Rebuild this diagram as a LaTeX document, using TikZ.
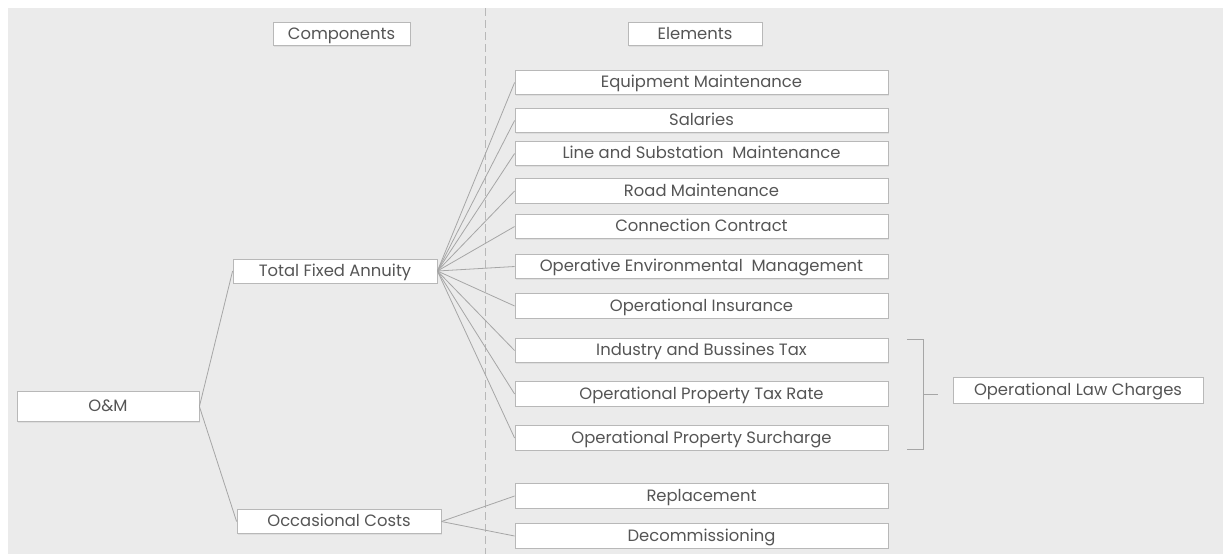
\documentclass[tikz,border=0pt]{standalone}
\usepackage{fontspec}
\setmainfont{Poppins}
\usetikzlibrary{shadows}
\definecolor{panel}{HTML}{EBEBEB}
\definecolor{boxline}{HTML}{B8B8B8}
\definecolor{conn}{HTML}{A6A6A6}
\definecolor{txt}{HTML}{555555}
\tikzset{
  box/.style={draw=boxline, line width=0.6pt, fill=white, text=txt, inner sep=0pt,
    font=\fontsize{12.3}{14}\selectfont, text height=0.85em, text depth=0.1em,
    drop shadow={shadow xshift=0.8pt, shadow yshift=-0.8pt, opacity=0.12}},
  elem/.style={box, minimum width=279.75pt, minimum height=18.3pt},
  link/.style={draw=conn, line width=0.6pt},
}
\begin{document}
\begin{tikzpicture}[x=0.75pt, y=-0.75pt]
\useasboundingbox (0,0) rectangle (1223,554);
\fill[white] (0,0) rectangle (1223,554);
\fill[panel] (8,8) rectangle (1223,554);
\draw[conn!80, line width=0.6pt, dash pattern=on 6pt off 3pt] (485,8) -- (485,554);

% headers
\node[box, minimum width=102.75pt, minimum height=17.5pt] (comp) at (341.5,34) {Components};
\node[box, minimum width=100.5pt, minimum height=17.5pt] (elhd) at (695,34) {Elements};

% left nodes
\node[box, minimum width=136.5pt, minimum height=23pt] (om) at (108,406.5) {O\&M};
\node[box, minimum width=153pt, minimum height=18pt] (tfa) at (335,271) {Total Fixed Annuity};
\node[box, minimum width=153pt, minimum height=18.5pt] (occ) at (339,521.5) {Occasional Costs};

% elements
\node[elem] (e1) at (701.5,82.5) {Equipment Maintenance};
\node[elem] (e2) at (701.5,120.5) {Salaries};
\node[elem] (e3) at (701.5,153.5) {Line and Substation\ \ Maintenance};
\node[elem] (e4) at (701.5,191) {Road Maintenance};
\node[elem] (e5) at (701.5,226.5) {Connection Contract};
\node[elem] (e6) at (701.5,266.5) {Operative Environmental\ \ Management};
\node[elem] (e7) at (701.5,306) {Operational Insurance};
\node[elem] (e8) at (701.5,350.5) {Industry and Bussines Tax};
\node[elem] (e9) at (701.5,394) {Operational Property Tax Rate};
\node[elem] (e10) at (701.5,438) {Operational Property Surcharge};
\node[elem] (r1) at (701.5,496) {Replacement};
\node[elem] (r2) at (701.5,536) {Decommissioning};

\node[box, minimum width=187.5pt, minimum height=19.5pt] (law) at (1078,390) {Operational Law Charges};

% connectors
\draw[link] (om.east) -- (tfa.west);
\draw[link] (om.east) -- (occ.west);
\foreach \e in {e1,e2,e3,e4,e5,e6,e7,e8,e9,e10}{
  \draw[link] (tfa.east) -- (\e.west);
}
\draw[link] (occ.east) -- (r1.west);
\draw[link] (occ.east) -- (r2.west);

% bracket
\coordinate (bt) at (907,339);
\coordinate (bb) at (907,449);
\coordinate (bm) at (923,394);
\coordinate (bk) at (938,394);
\draw[link] (bt) -- (923,339) -- (923,449) -- (bb);
\draw[link] (bm) -- (bk);
\end{tikzpicture}
\end{document}
